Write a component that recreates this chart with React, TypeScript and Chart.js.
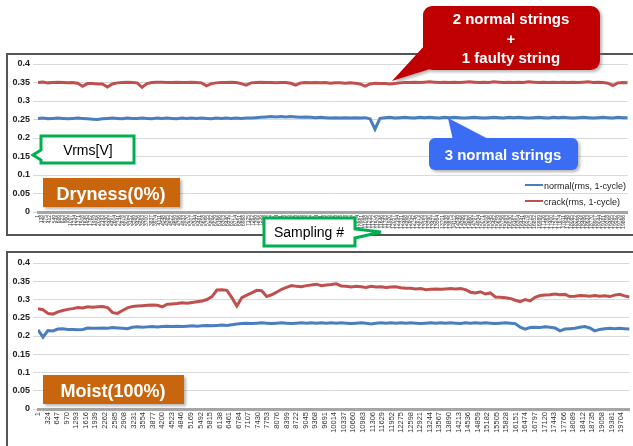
import React, { useEffect, useRef } from "react";
import { Chart, registerables } from "chart.js";
Chart.register(...registerables);

// sample spacing between the values (one value every ~5 px)
const SAMPLE_STEP = 168;
const X_MIN = 1;
const X_MAX = 19993;

// Dryness(0%) panel
const normalDry = [
  0.253, 0.254, 0.252, 0.253, 0.254, 0.253, 0.252, 0.253, 0.254, 0.253,
  0.252, 0.251, 0.250, 0.252, 0.253, 0.254, 0.253, 0.252, 0.254, 0.253,
  0.253, 0.254, 0.253, 0.252, 0.254, 0.253, 0.254, 0.253, 0.252, 0.254,
  0.253, 0.254, 0.253, 0.254, 0.253, 0.252, 0.254, 0.253, 0.254, 0.253,
  0.254, 0.253, 0.254, 0.254, 0.255, 0.256, 0.257, 0.258, 0.257, 0.258,
  0.257, 0.258, 0.257, 0.256, 0.257, 0.256, 0.255, 0.256, 0.255, 0.254,
  0.255, 0.254, 0.255, 0.254, 0.255, 0.254, 0.255, 0.252, 0.224, 0.253,
  0.255, 0.256, 0.254, 0.255, 0.256, 0.255, 0.254, 0.256, 0.255, 0.256,
  0.255, 0.254, 0.256, 0.255, 0.256, 0.255, 0.254, 0.255, 0.256, 0.255,
  0.254, 0.255, 0.256, 0.255, 0.254, 0.256, 0.255, 0.256, 0.255, 0.254,
  0.255, 0.256, 0.255, 0.254, 0.256, 0.255, 0.256, 0.255, 0.254, 0.255,
  0.256, 0.255, 0.254, 0.255, 0.256, 0.255, 0.254, 0.256, 0.255, 0.255,
];
const crackDry = [
  0.350, 0.351, 0.349, 0.350, 0.351, 0.350, 0.349, 0.350, 0.348, 0.340,
  0.347, 0.347, 0.346, 0.346, 0.338, 0.346, 0.349, 0.350, 0.351, 0.350,
  0.349, 0.337, 0.347, 0.350, 0.351, 0.351, 0.350, 0.350, 0.351, 0.350,
  0.350, 0.351, 0.350, 0.349, 0.341, 0.347, 0.349, 0.350, 0.350, 0.351,
  0.350, 0.347, 0.343, 0.349, 0.350, 0.351, 0.350, 0.350, 0.349, 0.350,
  0.350, 0.348, 0.343, 0.349, 0.350, 0.349, 0.350, 0.349, 0.350, 0.348,
  0.349, 0.349, 0.348, 0.349, 0.348, 0.346, 0.340, 0.346, 0.348, 0.347,
  0.347, 0.346, 0.347, 0.349, 0.350, 0.350, 0.351, 0.350, 0.351, 0.352,
  0.351, 0.350, 0.351, 0.350, 0.351, 0.350, 0.351, 0.352, 0.351, 0.350,
  0.351, 0.350, 0.352, 0.351, 0.350, 0.351, 0.350, 0.351, 0.350, 0.352,
  0.351, 0.350, 0.351, 0.350, 0.351, 0.350, 0.351, 0.350, 0.351, 0.350,
  0.351, 0.352, 0.350, 0.351, 0.350, 0.348, 0.342, 0.349, 0.350, 0.349,
];

// Moist(100%) panel
const normalMoist = [
  0.217, 0.197, 0.215, 0.214, 0.219, 0.220, 0.218, 0.218, 0.217, 0.218,
  0.222, 0.221, 0.221, 0.222, 0.221, 0.223, 0.222, 0.221, 0.220, 0.224,
  0.225, 0.224, 0.225, 0.226, 0.225, 0.226, 0.227, 0.226, 0.227, 0.226,
  0.227, 0.228, 0.227, 0.228, 0.229, 0.228, 0.229, 0.230, 0.229, 0.231,
  0.233, 0.234, 0.235, 0.234, 0.235, 0.236, 0.235, 0.234, 0.235, 0.236,
  0.235, 0.234, 0.235, 0.236, 0.235, 0.236, 0.235, 0.236, 0.235, 0.236,
  0.235, 0.236, 0.235, 0.234, 0.235, 0.236, 0.235, 0.233, 0.235, 0.236,
  0.235, 0.236, 0.235, 0.236, 0.235, 0.236, 0.235, 0.234, 0.235, 0.236,
  0.235, 0.236, 0.235, 0.236, 0.235, 0.234, 0.236, 0.235, 0.236, 0.235,
  0.236, 0.235, 0.234, 0.235, 0.236, 0.235, 0.234, 0.224, 0.219, 0.223,
  0.224, 0.223, 0.225, 0.224, 0.222, 0.214, 0.219, 0.220, 0.221, 0.224,
  0.226, 0.222, 0.214, 0.218, 0.220, 0.221, 0.220, 0.221, 0.220, 0.219,
];
const crackMoist = [
  0.275, 0.272, 0.262, 0.260, 0.266, 0.270, 0.273, 0.275, 0.278, 0.277,
  0.280, 0.279, 0.280, 0.281, 0.278, 0.264, 0.262, 0.270, 0.277, 0.281,
  0.282, 0.283, 0.284, 0.285, 0.284, 0.280, 0.287, 0.288, 0.289, 0.291,
  0.290, 0.292, 0.294, 0.296, 0.300, 0.308, 0.326, 0.327, 0.325, 0.305,
  0.282, 0.305, 0.312, 0.318, 0.325, 0.324, 0.308, 0.313, 0.320, 0.328,
  0.333, 0.338, 0.336, 0.335, 0.338, 0.340, 0.342, 0.338, 0.340, 0.341,
  0.343, 0.337, 0.336, 0.334, 0.336, 0.335, 0.333, 0.336, 0.334, 0.335,
  0.333, 0.334, 0.335, 0.332, 0.331, 0.331, 0.329, 0.330, 0.327, 0.328,
  0.329, 0.328, 0.329, 0.330, 0.329, 0.330, 0.327, 0.320, 0.318, 0.321,
  0.315, 0.318, 0.307, 0.306, 0.305, 0.303, 0.298, 0.294, 0.300, 0.296,
  0.306, 0.311, 0.312, 0.313, 0.315, 0.313, 0.314, 0.308, 0.309, 0.311,
  0.310, 0.309, 0.311, 0.309, 0.310, 0.308, 0.312, 0.314, 0.310, 0.307,
];

const moistTicks = [
  1, 324, 647, 970, 1293, 1616, 1939, 2262, 2585, 2908, 3231, 3554, 3877,
  4200, 4523, 4846, 5169, 5492, 5815, 6138, 6461, 6784, 7107, 7430, 7753,
  8076, 8399, 8722, 9045, 9368, 9691, 10014, 10337, 10660, 10983, 11306,
  11629, 11952, 12275, 12598, 12921, 13244, 13567, 13890, 14213, 14536,
  14859, 15182, 15505, 15828, 16151, 16474, 16797, 17120, 17443, 17766,
  18089, 18412, 18735, 19058, 19381, 19704,
];
const DRY_TICK_STEP = 137;
const dryTicks = Array.from(
  { length: Math.floor((X_MAX - 1) / DRY_TICK_STEP) + 1 },
  (_, i) => 1 + i * DRY_TICK_STEP
);
const yTicks = [0, 0.05, 0.1, 0.15, 0.2, 0.25, 0.3, 0.35, 0.4];

const BLUE = "#4A7EBF";
const RED = "#C0504D";
const FONT = "'Liberation Sans', Arial, sans-serif";

function toPoints(values: number[]) {
  return values.map((v, i) => ({ x: X_MIN + i * SAMPLE_STEP, y: v }));
}

function makeConfig(
  normal: number[],
  crack: number[],
  xTicks: number[],
  xFont: number,
  xAxisHeight: number
): any {
  return {
    type: "line",
    data: {
      datasets: [
        {
          label: "normal(rms, 1-cycle)",
          data: toPoints(normal),
          borderColor: BLUE,
          borderWidth: 3,
          pointRadius: 0,
          tension: 0,
        },
        {
          label: "crack(rms, 1-cycle)",
          data: toPoints(crack),
          borderColor: RED,
          borderWidth: 3,
          pointRadius: 0,
          tension: 0,
        },
      ],
    },
    options: {
      responsive: false,
      animation: false,
      devicePixelRatio: 1,
      layout: { padding: { top: 10, left: 0, right: 0, bottom: 0 } },
      plugins: { legend: { display: false }, tooltip: { enabled: false } },
      scales: {
        x: {
          type: "linear",
          min: X_MIN,
          max: X_MAX,
          afterBuildTicks: (s: any) => {
            s.ticks = xTicks.map((v) => ({ value: v }));
          },
          afterFit: (s: any) => {
            s.height = xAxisHeight;
          },
          grid: { display: true, drawOnChartArea: false, drawTicks: false },
          border: { display: true, color: "#A6A6A6", width: 3 },
          ticks: {
            autoSkip: false,
            minRotation: 90,
            maxRotation: 90,
            padding: 3,
            color: "#333",
            font: { family: FONT, size: xFont },
            callback: (v: any) => String(v),
          },
        },
        y: {
          min: 0,
          max: 0.4,
          afterBuildTicks: (s: any) => {
            s.ticks = yTicks.map((v) => ({ value: v }));
          },
          afterFit: (s: any) => {
            s.width = 31;
          },
          grid: { color: "#D9D9D9", lineWidth: 1, tickLength: 5 },
          border: { display: false },
          ticks: {
            padding: 3,
            color: "#222",
            font: { family: FONT, size: 9, weight: "bold" },
            callback: (v: any) => String(Number(Number(v).toFixed(2))),
          },
        },
      },
    },
  };
}

function Panel(props: {
  top: number;
  height: number;
  normal: number[];
  crack: number[];
  xTicks: number[];
  xFont: number;
  xAxisHeight: number;
}) {
  const ref = useRef<HTMLCanvasElement | null>(null);
  useEffect(() => {
    if (!ref.current) return;
    const chart = new Chart(
      ref.current,
      makeConfig(props.normal, props.crack, props.xTicks, props.xFont, props.xAxisHeight)
    );
    return () => chart.destroy();
  }, []);
  return (
    <canvas
      ref={ref}
      width={626}
      height={props.height}
      style={{
        position: "absolute",
        left: 7,
        top: props.top,
        width: 626,
        height: props.height,
      }}
    />
  );
}

export default function App() {
  return (
    <div
      style={{
        position: "fixed",
        left: 0,
        top: 0,
        width: 633,
        height: 446,
        overflow: "hidden",
        background: "#fff",
        fontFamily: FONT,
      }}
    >
      {/* panel frames */}
      <div
        style={{
          position: "absolute",
          left: 6,
          top: 53,
          width: 700,
          height: 183,
          border: "2px solid #555",
          boxSizing: "border-box",
        }}
      />
      <div
        style={{
          position: "absolute",
          left: 6,
          top: 251,
          width: 700,
          height: 260,
          border: "2px solid #555",
          boxSizing: "border-box",
        }}
      />
      <Panel
        top={54}
        height={184}
        normal={normalDry}
        crack={crackDry}
        xTicks={dryTicks}
        xFont={5}
        xAxisHeight={26}
      />
      <Panel
        top={253}
        height={193}
        normal={normalMoist}
        crack={crackMoist}
        xTicks={moistTicks}
        xFont={7.5}
        xAxisHeight={37}
      />
      <svg
        width={633}
        height={446}
        style={{ position: "absolute", left: 0, top: 0, pointerEvents: "none" }}
        fontFamily={FONT}
      >
        <defs>
          <filter id="sh" x="-20%" y="-20%" width="140%" height="150%">
            <feDropShadow dx="2" dy="2" stdDeviation="1.6" floodColor="#777" floodOpacity="0.55" />
          </filter>
        </defs>

        {/* legend (top panel) */}
        <line x1={525} y1={185} x2={543} y2={185} stroke={BLUE} strokeWidth={2} />
        <text x={544} y={188.5} fontSize={9} fill="#222">normal(rms, 1-cycle)</text>
        <line x1={525} y1={201} x2={543} y2={201} stroke={RED} strokeWidth={2} />
        <text x={544} y={204.5} fontSize={9} fill="#222">crack(rms, 1-cycle)</text>

        {/* red callout */}
        <g filter="url(#sh)">
          <polygon points="426,44 440,66 392,81" fill="#C00000" />
          <rect x={423} y={6} width={177} height={64} rx={9} fill="#C00000" />
        </g>
        <g fill="#fff" fontWeight="bold" fontSize={15} textAnchor="middle">
          <text x={511} y={24}>2 normal strings</text>
          <text x={511} y={44}>+</text>
          <text x={511} y={63}>1 faulty string</text>
        </g>

        {/* blue callout */}
        <g filter="url(#sh)">
          <polygon points="448,118 453,140 490,140" fill="#3A6CF4" />
          <rect x={429} y={138} width={149} height={32} rx={6} fill="#3A6CF4" />
        </g>
        <text x={503} y={160} fill="#fff" fontWeight="bold" fontSize={15} textAnchor="middle">
          3 normal strings
        </text>

        {/* Vrms[V] callout */}
        <path
          d="M41,136 H134 V163 H41 V160 L33,155 L41,150 Z"
          fill="#fff"
          stroke="#00B050"
          strokeWidth={3}
          strokeLinejoin="miter"
        />
        <text x={88} y={155} fontSize={14} fill="#000" textAnchor="middle">Vrms[V]</text>

        {/* Dryness label */}
        <rect x={43} y={178} width={137} height={29} fill="#C9660A" filter="url(#sh)" />
        <text x={111} y={200} fontSize={18} fontWeight="bold" fill="#fff" textAnchor="middle">
          Dryness(0%)
        </text>

        {/* Sampling # callout */}
        <path
          d="M264,218 H355 V229 L381,232 L355,238 V246 H264 Z"
          fill="#fff"
          stroke="#00B050"
          strokeWidth={3}
          strokeLinejoin="miter"
        />
        <text x={309} y={237} fontSize={14} fill="#000" textAnchor="middle">Sampling #</text>

        {/* Moist label */}
        <rect x={43} y={375} width={141} height={29} fill="#C9660A" filter="url(#sh)" />
        <text x={113} y={397} fontSize={18} fontWeight="bold" fill="#fff" textAnchor="middle">
          Moist(100%)
        </text>
      </svg>
    </div>
  );
}
